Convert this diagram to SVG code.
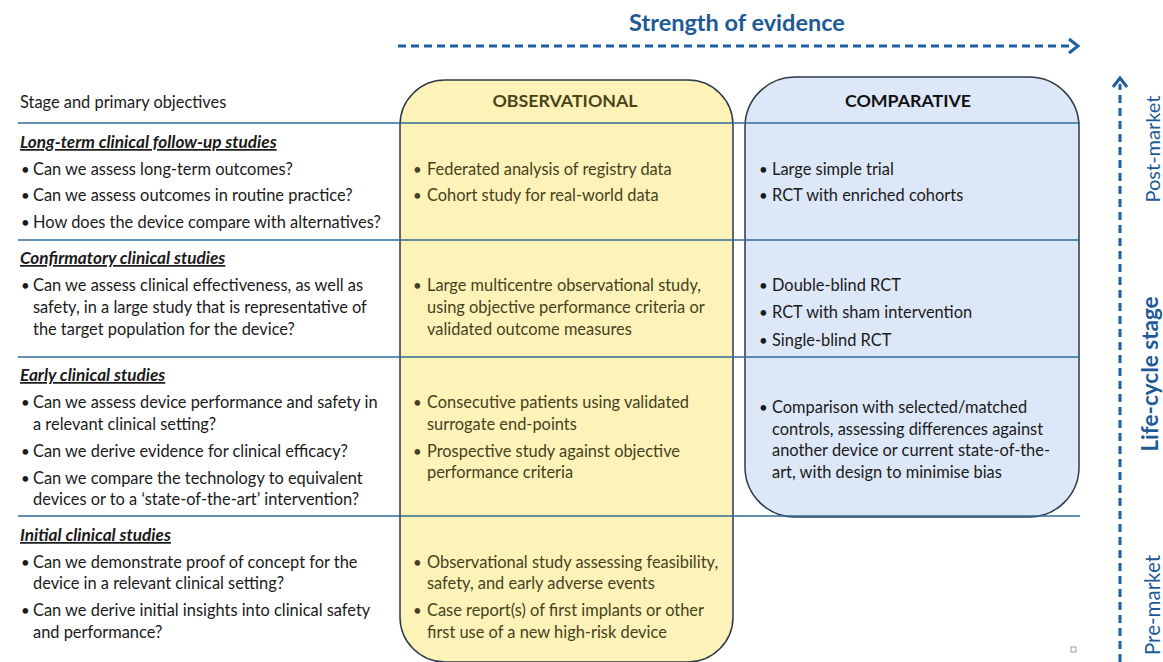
<svg xmlns="http://www.w3.org/2000/svg" width="1163" height="662" viewBox="0 0 1163 662">
<defs>
<style>
.t{font-family:Lato,"Liberation Sans",sans-serif;font-size:16.4px;fill:#1a1a1a}
.y{font-family:Lato,"Liberation Sans",sans-serif;font-size:16.4px;fill:#45411c}
.b{font-family:Lato,"Liberation Sans",sans-serif;font-size:15px;fill:#1a1a1a}
.by{font-family:Lato,"Liberation Sans",sans-serif;font-size:15px;fill:#45411c}
.h{font-family:Lato,"Liberation Sans",sans-serif;font-size:17.2px;font-weight:bold;font-style:italic;text-decoration:underline;fill:#1a1a1a}
.hd{font-family:Lato,"Liberation Sans",sans-serif;font-size:17.8px;font-weight:bold;text-anchor:middle}
.blue{fill:#1d5a96;font-family:Lato,"Liberation Sans",sans-serif}
.rule{stroke:#2f6a98;stroke-width:1.5;fill:none}
.dash{stroke:#1d5fa0;stroke-width:3;stroke-dasharray:8 5;fill:none}
.head{stroke:#1d5fa0;stroke-width:3;fill:none;stroke-linejoin:miter}
</style>
</defs>
<rect width="1163" height="662" fill="#ffffff"/>

<g id="observational">
<rect x="400" y="80" width="333" height="582" rx="45" ry="45" fill="#fdf3b8" stroke="#2e3a48" stroke-width="1.5"/>
<text class="hd" x="565" y="107" fill="#4a4418">OBSERVATIONAL</text>
</g>
<g id="comparative">
<rect x="745" y="77" width="334" height="440" rx="50" ry="50" fill="#dce7f7" stroke="#2e3a48" stroke-width="1.5"/>
<text class="hd" x="908" y="107" fill="#111">COMPARATIVE</text>
</g>

<g id="rules">
<line class="rule" x1="18" y1="123" x2="1080" y2="123"/>
<line class="rule" x1="18" y1="240" x2="1080" y2="240"/>
<line class="rule" x1="18" y1="357" x2="1080" y2="357"/>
<line class="rule" x1="18" y1="516" x2="1080" y2="516"/>
</g>

<g id="connectors">
<line class="dash" x1="398" y1="46" x2="1072" y2="46"/>
<polyline class="head" points="1069,39 1078,46 1069,53"/>
<line class="dash" x1="1120" y1="662" x2="1120" y2="84"/>
<polyline class="head" points="1113,87 1120,78 1127,87"/>
</g>

<g id="title">
<text class="blue" x="737" y="31" font-size="23.5" font-weight="bold" text-anchor="middle">Strength of evidence</text>
</g>

<g id="lifecycle">
<text class="blue" transform="translate(1160,149) rotate(-90)" font-size="20" text-anchor="middle">Post-market</text>
<text class="blue" transform="translate(1158,374) rotate(-90)" font-size="22.5" font-weight="bold" text-anchor="middle">Life-cycle stage</text>
<text class="blue" transform="translate(1160,605) rotate(-90)" font-size="20.5" text-anchor="middle">Pre-market</text>
</g>

<g id="left-column">
<text class="t" x="20" y="108">Stage and primary objectives</text>
<text class="h" x="20" y="148">Long-term clinical follow-up studies</text>
<text class="b" x="21" y="175">•</text><text class="t" x="33" y="175">Can we assess long-term outcomes?</text>
<text class="b" x="21" y="201">•</text><text class="t" x="33" y="201">Can we assess outcomes in routine practice?</text>
<text class="b" x="21" y="228">•</text><text class="t" x="33" y="228">How does the device compare with alternatives?</text>

<text class="h" x="20" y="264">Confirmatory clinical studies</text>
<text class="b" x="21" y="291">•</text><text class="t" x="33" y="291">Can we assess clinical effectiveness, as well as</text>
<text class="t" x="33" y="313">safety, in a large study that is representative of</text>
<text class="t" x="33" y="335">the target population for the device?</text>

<text class="h" x="20" y="381">Early clinical studies</text>
<text class="b" x="21" y="408">•</text><text class="t" x="33" y="408">Can we assess device performance and safety in</text>
<text class="t" x="33" y="430">a relevant clinical setting?</text>
<text class="b" x="21" y="457">•</text><text class="t" x="33" y="457">Can we derive evidence for clinical efficacy?</text>
<text class="b" x="21" y="484">•</text><text class="t" x="33" y="484">Can we compare the technology to equivalent</text>
<text class="t" x="33" y="505">devices or to a ‘state-of-the-art’ intervention?</text>

<text class="h" x="20" y="541">Initial clinical studies</text>
<text class="b" x="21" y="568">•</text><text class="t" x="33" y="568">Can we demonstrate proof of concept for the</text>
<text class="t" x="33" y="589">device in a relevant clinical setting?</text>
<text class="b" x="21" y="616">•</text><text class="t" x="33" y="616">Can we derive initial insights into clinical safety</text>
<text class="t" x="33" y="638">and performance?</text>
</g>

<g id="observational-items">
<text class="by" x="413" y="175">•</text><text class="y" x="427" y="175">Federated analysis of registry data</text>
<text class="by" x="413" y="201">•</text><text class="y" x="427" y="201">Cohort study for real-world data</text>
<text class="by" x="413" y="291">•</text><text class="y" x="427" y="291">Large multicentre observational study,</text>
<text class="y" x="427" y="313">using objective performance criteria or</text>
<text class="y" x="427" y="335">validated outcome measures</text>
<text class="by" x="413" y="408">•</text><text class="y" x="427" y="408">Consecutive patients using validated</text>
<text class="y" x="427" y="430">surrogate end-points</text>
<text class="by" x="413" y="457">•</text><text class="y" x="427" y="457">Prospective study against objective</text>
<text class="y" x="427" y="478">performance criteria</text>
<text class="by" x="413" y="568">•</text><text class="y" x="427" y="568">Observational study assessing feasibility,</text>
<text class="y" x="427" y="589">safety, and early adverse events</text>
<text class="by" x="413" y="616">•</text><text class="y" x="427" y="616">Case report(s) of first implants or other</text>
<text class="y" x="427" y="638">first use of a new high-risk device</text>
</g>

<g id="comparative-items">
<text class="b" x="759" y="175">•</text><text class="t" x="772" y="175">Large simple trial</text>
<text class="b" x="759" y="201">•</text><text class="t" x="772" y="201">RCT with enriched cohorts</text>
<text class="b" x="759" y="291">•</text><text class="t" x="772" y="291">Double-blind RCT</text>
<text class="b" x="759" y="318">•</text><text class="t" x="772" y="318">RCT with sham intervention</text>
<text class="b" x="759" y="346">•</text><text class="t" x="772" y="346">Single-blind RCT</text>
<text class="b" x="759" y="413">•</text><text class="t" x="772" y="413">Comparison with selected/matched</text>
<text class="t" x="772" y="435">controls, assessing differences against</text>
<text class="t" x="772" y="456">another device or current state-of-the-</text>
<text class="t" x="772" y="478">art, with design to minimise bias</text>
</g>

<rect id="marker-square" x="1071" y="647" width="5" height="5" fill="none" stroke="#999" stroke-width="1"/>
</svg>
